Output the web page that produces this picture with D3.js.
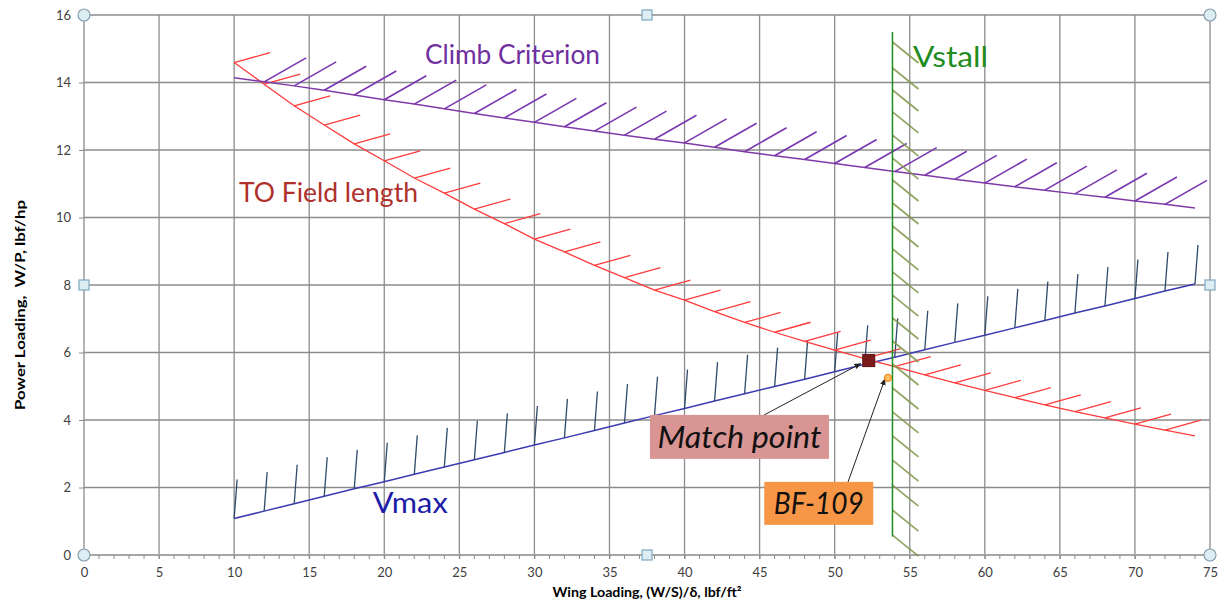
<!DOCTYPE html>
<html>
<head>
<meta charset="utf-8">
<script src="https://cdnjs.cloudflare.com/ajax/libs/d3/7.8.5/d3.min.js"></script>
<style>
  body { margin: 0; background: #fff; }
  svg { display: block; }
</style>
</head>
<body>
<div id="chart"></div>
<script>
// wing loading (W/S)/delta, lbf/ft^2
let wingLoading = [10, 12, 14, 16, 18, 20, 22, 24, 26, 28, 30, 32, 34, 36, 38, 40, 42,
                   44, 46, 48, 50, 52, 54, 56, 58, 60, 62, 64, 66, 68, 70, 72, 74];

// power loading W/P, lbf/hp for each constraint
let climb = [14.14, 14.02, 13.90, 13.77, 13.63, 13.49, 13.36, 13.22, 13.08, 12.95, 12.82,
             12.69, 12.56, 12.44, 12.32, 12.21, 12.08, 11.95, 11.83, 11.72, 11.60, 11.48,
             11.36, 11.25, 11.13, 11.02, 10.91, 10.81, 10.70, 10.60, 10.49, 10.39, 10.28];
let takeoff = [14.59, 13.95, 13.31, 12.74, 12.18, 11.68, 11.17, 10.72, 10.25, 9.82, 9.36,
               8.98, 8.58, 8.22, 7.85, 7.55, 7.21, 6.89, 6.60, 6.33, 6.07, 5.82,
               5.58, 5.34, 5.10, 4.88, 4.66, 4.45, 4.25, 4.06, 3.88, 3.70, 3.53];
let vmax = [1.08, 1.30, 1.52, 1.74, 1.96, 2.17, 2.39, 2.61, 2.82, 3.04, 3.26,
            3.47, 3.69, 3.91, 4.13, 4.34, 4.56, 4.78, 4.99, 5.21, 5.43, 5.65,
            5.86, 6.08, 6.30, 6.51, 6.73, 6.95, 7.17, 7.38, 7.60, 7.82, 8.03];

// stall limit is a vertical line
let vstallWS = 53.85;
let vstallWP = [0.55, 15.5];
let vstallHatchWP = [15.2, 14.43, 13.78, 13.13, 12.44, 11.76, 11.11, 10.43, 9.75, 9.07, 8.39,
                     7.70, 7.02, 6.34, 5.66, 4.95, 4.24, 3.53, 2.81, 2.07, 1.33, 0.59];

let matchPoint = [52.27, 5.76];
let bf109 = [53.55, 5.25];

let xTicks = [0, 5, 10, 15, 20, 25, 30, 35, 40, 45, 50, 55, 60, 65, 70, 75];
let yTicks = [0, 2, 4, 6, 8, 10, 12, 14, 16];

let w = 1219;
let h = 605;

let x = d3.scaleLinear().domain([0, 75]).range([84, 1210]);
let y = d3.scaleLinear().domain([0, 16]).range([555, 15]);

let svg = d3.select("#chart")
    .append("svg")
    .attr("width", w)
    .attr("height", h)
    .style("font-family", "Lato, 'Noto Sans', sans-serif");

// grid
svg.append("g")
    .selectAll("line")
    .data(yTicks)
    .enter()
    .append("line")
    .attr("x1", x(0)).attr("x2", x(75))
    .attr("y1", d => y(d)).attr("y2", d => y(d))
    .attr("stroke", "#8c8c8c")
    .attr("stroke-width", 1.3);

svg.append("g")
    .selectAll("line")
    .data(xTicks)
    .enter()
    .append("line")
    .attr("x1", d => x(d)).attr("x2", d => x(d))
    .attr("y1", y(0)).attr("y2", y(16))
    .attr("stroke", "#8c8c8c")
    .attr("stroke-width", 1.3);

// x axis line and minor ticks
svg.append("line")
    .attr("x1", x(0)).attr("x2", x(75))
    .attr("y1", y(0)).attr("y2", y(0))
    .attr("stroke", "#a6a6a6")
    .attr("stroke-width", 2);

svg.append("g")
    .selectAll("line")
    .data(d3.range(0, 76))
    .enter()
    .append("line")
    .attr("x1", d => x(d)).attr("x2", d => x(d))
    .attr("y1", y(0)).attr("y2", y(0) + 4)
    .attr("stroke", "#8c8c8c")
    .attr("stroke-width", 1);

// axes (labels + major ticks)
let xAxis = svg.append("g")
    .attr("transform", "translate(0," + y(0) + ")")
    .call(d3.axisBottom(x).tickValues(xTicks).tickSize(4).tickPadding(9));
let yAxis = svg.append("g")
    .attr("transform", "translate(" + x(0) + ",0)")
    .call(d3.axisLeft(y).tickValues(yTicks).tickSize(5).tickPadding(8));

[xAxis, yAxis].forEach(function (a) {
    a.select(".domain").remove();
    a.selectAll(".tick line").attr("stroke", "#8c8c8c");
    a.selectAll(".tick text")
        .attr("fill", "#404040")
        .attr("font-size", "13px")
        .attr("font-family", "Lato, 'Noto Sans', sans-serif");
});

// axis titles
svg.append("text")
    .attr("x", 647)
    .attr("y", 597)
    .attr("text-anchor", "middle")
    .attr("font-weight", "bold")
    .attr("font-size", "13px")
    .attr("textLength", 189)
    .attr("lengthAdjust", "spacingAndGlyphs")
    .text("Wing Loading, (W/S)/\u03b4, lbf/ft\u00b2");

svg.append("text")
    .attr("transform", "translate(25,305) rotate(-90)")
    .attr("text-anchor", "middle")
    .attr("font-weight", "bold")
    .attr("font-size", "14px")
    .attr("textLength", 210)
    .attr("lengthAdjust", "spacingAndGlyphs")
    .style("white-space", "pre")
    .text("Power Loading,  W/P, lbf/hp");

let line = d3.line()
    .x(d => x(d[0]))
    .y(d => y(d[1]));

function drawSeries(values, color, width) {
    let pts = wingLoading.map((ws, i) => [ws, values[i]]);
    svg.append("path")
        .datum(pts)
        .attr("d", line)
        .attr("fill", "none")
        .attr("stroke", color)
        .attr("stroke-width", width);
    return pts;
}

function drawHatch(pts, dx, dy, color, width, opacity) {
    svg.append("g")
        .selectAll("line")
        .data(pts)
        .enter()
        .append("line")
        .attr("x1", d => x(d[0]))
        .attr("y1", d => y(d[1]))
        .attr("x2", d => x(d[0]) + dx)
        .attr("y2", d => y(d[1]) + dy)
        .attr("stroke", color)
        .attr("stroke-width", width)
        .attr("stroke-opacity", opacity || 1);
}

// Vmax
let vmaxPts = drawSeries(vmax, "#3b3bb3", 1.5);
drawHatch(vmaxPts, 3, -39, "#2f4a6b", 1.3);

// take-off field length
let toPts = drawSeries(takeoff, "#ff3b3b", 1.3);
drawHatch(toPts.slice(0, -1), 36, -10, "#ff3b3b", 1.3);

// climb
let climbPts = drawSeries(climb, "#7f3aa8", 1.5);
drawHatch(climbPts.slice(1, -1), 42, -24, "#7a35b0", 1.6);

// stall
drawHatch(vstallHatchWP.map(d => [vstallWS, d]), 26, 21, "#7f964a", 1.8, 0.85);
svg.append("line")
    .attr("x1", x(vstallWS)).attr("x2", x(vstallWS))
    .attr("y1", y(vstallWP[0])).attr("y2", y(vstallWP[1]))
    .attr("stroke", "#1f8c1f")
    .attr("stroke-width", 1.5);

// series labels
let labels = [
    { text: "Climb Criterion", ws: 22.71, wp: 14.55, color: "#7030a0", size: 27, len: 175 },
    { text: "TO Field length", ws: 10.32, wp: 10.46, color: "#b0302c", size: 27, len: 179 },
    { text: "Vmax", ws: 19.23, wp: 1.25, color: "#1c1ca6", size: 29, len: 75 },
    { text: "Vstall", ws: 55.22, wp: 14.47, color: "#1e8c1e", size: 28, len: 75 }
];
svg.append("g")
    .selectAll("text")
    .data(labels)
    .enter()
    .append("text")
    .attr("x", d => x(d.ws))
    .attr("y", d => y(d.wp))
    .attr("fill", d => d.color)
    .attr("font-size", d => d.size + "px")
    .attr("textLength", d => d.len)
    .attr("lengthAdjust", "spacingAndGlyphs")
    .text(d => d.text);

// arrow marker
svg.append("defs")
    .append("marker")
    .attr("id", "arrow")
    .attr("viewBox", "0 0 10 10")
    .attr("refX", 9).attr("refY", 5)
    .attr("markerWidth", 7).attr("markerHeight", 7)
    .attr("orient", "auto")
    .append("path")
    .attr("d", "M0,1 L10,5 L0,9 z")
    .attr("fill", "#222");

// callouts
let callouts = [
    { text: "Match point", ws: 43.66, wp: 3.5, bw: 179, bh: 44, fill: "#d99594", len: 164,
      from: [764, 415], target: matchPoint, off: [-8, 3] },
    { text: "BF-109", ws: 48.94, wp: 1.53, bw: 109, bh: 43, fill: "#f79646", len: 90,
      from: [848, 482], target: bf109, off: [-3, 1] }
];

callouts.forEach(function (c) {
    let cx = x(c.ws), cy = y(c.wp);
    svg.append("line")
        .attr("x1", c.from[0]).attr("y1", c.from[1])
        .attr("x2", x(c.target[0]) + c.off[0])
        .attr("y2", y(c.target[1]) + c.off[1])
        .attr("stroke", "#222")
        .attr("stroke-width", 1)
        .attr("marker-end", "url(#arrow)");
    svg.append("rect")
        .attr("x", cx - c.bw / 2).attr("y", cy - c.bh / 2)
        .attr("width", c.bw).attr("height", c.bh)
        .attr("fill", c.fill);
    svg.append("text")
        .attr("x", cx).attr("y", cy + 11)
        .attr("text-anchor", "middle")
        .attr("font-style", "italic")
        .attr("font-size", "30px")
        .attr("fill", "#111")
        .attr("textLength", c.len)
        .attr("lengthAdjust", "spacingAndGlyphs")
        .text(c.text);
});

// match point and BF-109 markers
svg.append("rect")
    .attr("x", x(matchPoint[0]) - 6).attr("y", y(matchPoint[1]) - 6)
    .attr("width", 12).attr("height", 12)
    .attr("fill", "#7b1a1a")
    .attr("stroke", "#5c1010")
    .attr("stroke-width", 1);

svg.append("circle")
    .attr("cx", x(bf109[0])).attr("cy", y(bf109[1]))
    .attr("r", 3.5)
    .attr("fill", "#ffc060")
    .attr("stroke", "#f08a20")
    .attr("stroke-width", 1.3);

// selection handles of the chart area
let corners = [[0, 0], [75, 0], [0, 16], [75, 16]];
let mids = [[37.5, 0], [37.5, 16], [0, 8], [75, 8]];

svg.append("g")
    .selectAll("circle")
    .data(corners)
    .enter()
    .append("circle")
    .attr("cx", d => x(d[0]))
    .attr("cy", d => y(d[1]))
    .attr("r", 6)
    .attr("fill", "#dcedf3")
    .attr("stroke", "#8aa0ae")
    .attr("stroke-width", 1.2);

svg.append("g")
    .selectAll("rect")
    .data(mids)
    .enter()
    .append("rect")
    .attr("x", d => x(d[0]) - 5)
    .attr("y", d => y(d[1]) - 5)
    .attr("width", 10)
    .attr("height", 10)
    .attr("fill", "#dcedf3")
    .attr("stroke", "#7fa7c0")
    .attr("stroke-width", 1.2);
</script>
</body>
</html>
